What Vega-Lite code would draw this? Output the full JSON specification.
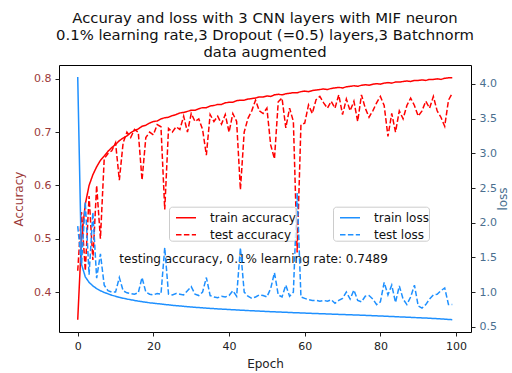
{
"$schema":"https://vega.github.io/schema/vega-lite/v6.json",
"width":412,"height":267,
"autosize":"none",
"padding":{"left":59,"top":65,"right":41,"bottom":41},
"background":"white",
"config":{"font":"DejaVu Sans","view":{"stroke":"black","strokeWidth":1},
"axis":{"labelFont":"DejaVu Sans","labelFontSize":11,"titleFont":"DejaVu Sans","titleFontSize":12,"titleFontWeight":"normal","grid":false,"domain":false,"tickColor":"#222","tickSize":4,"labelPadding":4,"labelColor":"#222","titleColor":"#222"},
"legend":{"labelFont":"DejaVu Sans","title":null,"symbolType":"stroke","symbolSize":400,"symbolStrokeWidth":1.5,"symbolOffset":6,"labelFontSize":12,"labelColor":"#111","fillColor":"rgba(255,255,255,0.8)","strokeColor":"#cccccc","padding":0,"cornerRadius":3,"labelOffset":13,"rowPadding":-3.6}},
"title":{"text":["Accuray and loss with 3 CNN layers with MIF neuron","0.1% learning rate,3 Dropout (=0.5) layers,3 Batchnorm","data augmented"],"fontSize":14.8,"fontWeight":"normal","anchor":"middle","offset":5,"lineHeight":17,"color":"#111","font":"DejaVu Sans"},
"datasets":{
"acc":[
{"e":0,"s":"train accuracy","v":0.348},{"e":1,"s":"train accuracy","v":0.5},{"e":2,"s":"train accuracy","v":0.565},{"e":3,"s":"train accuracy","v":0.6},{"e":4,"s":"train accuracy","v":0.62},{"e":5,"s":"train accuracy","v":0.635},{"e":6,"s":"train accuracy","v":0.647},{"e":7,"s":"train accuracy","v":0.655},{"e":8,"s":"train accuracy","v":0.664},{"e":9,"s":"train accuracy","v":0.671},
{"e":10,"s":"train accuracy","v":0.677},{"e":11,"s":"train accuracy","v":0.684},{"e":12,"s":"train accuracy","v":0.689},{"e":13,"s":"train accuracy","v":0.693},{"e":14,"s":"train accuracy","v":0.699},{"e":15,"s":"train accuracy","v":0.703},{"e":16,"s":"train accuracy","v":0.706},{"e":17,"s":"train accuracy","v":0.711},{"e":18,"s":"train accuracy","v":0.713},{"e":19,"s":"train accuracy","v":0.717},
{"e":20,"s":"train accuracy","v":0.72},{"e":21,"s":"train accuracy","v":0.721},{"e":22,"s":"train accuracy","v":0.725},{"e":23,"s":"train accuracy","v":0.727},{"e":24,"s":"train accuracy","v":0.728},{"e":25,"s":"train accuracy","v":0.731},{"e":26,"s":"train accuracy","v":0.733},{"e":27,"s":"train accuracy","v":0.736},{"e":28,"s":"train accuracy","v":0.737},{"e":29,"s":"train accuracy","v":0.739},
{"e":30,"s":"train accuracy","v":0.741},{"e":31,"s":"train accuracy","v":0.741},{"e":32,"s":"train accuracy","v":0.744},{"e":33,"s":"train accuracy","v":0.746},{"e":34,"s":"train accuracy","v":0.746},{"e":35,"s":"train accuracy","v":0.749},{"e":36,"s":"train accuracy","v":0.75},{"e":37,"s":"train accuracy","v":0.752},{"e":38,"s":"train accuracy","v":0.752},{"e":39,"s":"train accuracy","v":0.755},
{"e":40,"s":"train accuracy","v":0.756},{"e":41,"s":"train accuracy","v":0.756},{"e":42,"s":"train accuracy","v":0.759},{"e":43,"s":"train accuracy","v":0.76},{"e":44,"s":"train accuracy","v":0.76},{"e":45,"s":"train accuracy","v":0.762},{"e":46,"s":"train accuracy","v":0.763},{"e":47,"s":"train accuracy","v":0.764},{"e":48,"s":"train accuracy","v":0.766},{"e":49,"s":"train accuracy","v":0.766},
{"e":50,"s":"train accuracy","v":0.768},{"e":51,"s":"train accuracy","v":0.767},{"e":52,"s":"train accuracy","v":0.77},{"e":53,"s":"train accuracy","v":0.771},{"e":54,"s":"train accuracy","v":0.77},{"e":55,"s":"train accuracy","v":0.772},{"e":56,"s":"train accuracy","v":0.773},{"e":57,"s":"train accuracy","v":0.774},{"e":58,"s":"train accuracy","v":0.774},{"e":59,"s":"train accuracy","v":0.776},
{"e":60,"s":"train accuracy","v":0.777},{"e":61,"s":"train accuracy","v":0.776},{"e":62,"s":"train accuracy","v":0.778},{"e":63,"s":"train accuracy","v":0.779},{"e":64,"s":"train accuracy","v":0.78},{"e":65,"s":"train accuracy","v":0.781},{"e":66,"s":"train accuracy","v":0.78},{"e":67,"s":"train accuracy","v":0.782},{"e":68,"s":"train accuracy","v":0.783},{"e":69,"s":"train accuracy","v":0.784},
{"e":70,"s":"train accuracy","v":0.783},{"e":71,"s":"train accuracy","v":0.785},{"e":72,"s":"train accuracy","v":0.786},{"e":73,"s":"train accuracy","v":0.787},{"e":74,"s":"train accuracy","v":0.786},{"e":75,"s":"train accuracy","v":0.788},{"e":76,"s":"train accuracy","v":0.789},{"e":77,"s":"train accuracy","v":0.788},{"e":78,"s":"train accuracy","v":0.79},{"e":79,"s":"train accuracy","v":0.791},
{"e":80,"s":"train accuracy","v":0.79},{"e":81,"s":"train accuracy","v":0.792},{"e":82,"s":"train accuracy","v":0.793},{"e":83,"s":"train accuracy","v":0.792},{"e":84,"s":"train accuracy","v":0.794},{"e":85,"s":"train accuracy","v":0.794},{"e":86,"s":"train accuracy","v":0.795},{"e":87,"s":"train accuracy","v":0.796},{"e":88,"s":"train accuracy","v":0.795},{"e":89,"s":"train accuracy","v":0.797},
{"e":90,"s":"train accuracy","v":0.797},{"e":91,"s":"train accuracy","v":0.798},{"e":92,"s":"train accuracy","v":0.797},{"e":93,"s":"train accuracy","v":0.799},{"e":94,"s":"train accuracy","v":0.799},{"e":95,"s":"train accuracy","v":0.8},{"e":96,"s":"train accuracy","v":0.799},{"e":97,"s":"train accuracy","v":0.801},{"e":98,"s":"train accuracy","v":0.802},{"e":99,"s":"train accuracy","v":0.802},
{"e":0,"s":"test accuracy","v":0.44},{"e":1,"s":"test accuracy","v":0.55},{"e":2,"s":"test accuracy","v":0.44},{"e":3,"s":"test accuracy","v":0.58},{"e":4,"s":"test accuracy","v":0.46},{"e":5,"s":"test accuracy","v":0.6},{"e":6,"s":"test accuracy","v":0.5},{"e":7,"s":"test accuracy","v":0.65},{"e":8,"s":"test accuracy","v":0.66},{"e":9,"s":"test accuracy","v":0.665},
{"e":10,"s":"test accuracy","v":0.68},{"e":11,"s":"test accuracy","v":0.61},{"e":12,"s":"test accuracy","v":0.68},{"e":13,"s":"test accuracy","v":0.7},{"e":14,"s":"test accuracy","v":0.69},{"e":15,"s":"test accuracy","v":0.705},{"e":16,"s":"test accuracy","v":0.7},{"e":17,"s":"test accuracy","v":0.61},{"e":18,"s":"test accuracy","v":0.69},{"e":19,"s":"test accuracy","v":0.7},
{"e":20,"s":"test accuracy","v":0.695},{"e":21,"s":"test accuracy","v":0.714},{"e":22,"s":"test accuracy","v":0.71},{"e":23,"s":"test accuracy","v":0.555},{"e":24,"s":"test accuracy","v":0.707},{"e":25,"s":"test accuracy","v":0.7},{"e":26,"s":"test accuracy","v":0.71},{"e":27,"s":"test accuracy","v":0.705},{"e":28,"s":"test accuracy","v":0.73},{"e":29,"s":"test accuracy","v":0.7},
{"e":30,"s":"test accuracy","v":0.735},{"e":31,"s":"test accuracy","v":0.72},{"e":32,"s":"test accuracy","v":0.725},{"e":33,"s":"test accuracy","v":0.705},{"e":34,"s":"test accuracy","v":0.657},{"e":35,"s":"test accuracy","v":0.733},{"e":36,"s":"test accuracy","v":0.72},{"e":37,"s":"test accuracy","v":0.73},{"e":38,"s":"test accuracy","v":0.715},{"e":39,"s":"test accuracy","v":0.733},
{"e":40,"s":"test accuracy","v":0.7},{"e":41,"s":"test accuracy","v":0.735},{"e":42,"s":"test accuracy","v":0.72},{"e":43,"s":"test accuracy","v":0.592},{"e":44,"s":"test accuracy","v":0.7},{"e":45,"s":"test accuracy","v":0.726},{"e":46,"s":"test accuracy","v":0.74},{"e":47,"s":"test accuracy","v":0.76},{"e":48,"s":"test accuracy","v":0.74},{"e":49,"s":"test accuracy","v":0.735},
{"e":50,"s":"test accuracy","v":0.745},{"e":51,"s":"test accuracy","v":0.676},{"e":52,"s":"test accuracy","v":0.65},{"e":53,"s":"test accuracy","v":0.757},{"e":54,"s":"test accuracy","v":0.764},{"e":55,"s":"test accuracy","v":0.708},{"e":56,"s":"test accuracy","v":0.745},{"e":57,"s":"test accuracy","v":0.72},{"e":58,"s":"test accuracy","v":0.474},{"e":59,"s":"test accuracy","v":0.714},
{"e":60,"s":"test accuracy","v":0.717},{"e":61,"s":"test accuracy","v":0.751},{"e":62,"s":"test accuracy","v":0.735},{"e":63,"s":"test accuracy","v":0.761},{"e":64,"s":"test accuracy","v":0.767},{"e":65,"s":"test accuracy","v":0.755},{"e":66,"s":"test accuracy","v":0.745},{"e":67,"s":"test accuracy","v":0.758},{"e":68,"s":"test accuracy","v":0.745},{"e":69,"s":"test accuracy","v":0.77},
{"e":70,"s":"test accuracy","v":0.733},{"e":71,"s":"test accuracy","v":0.762},{"e":72,"s":"test accuracy","v":0.74},{"e":73,"s":"test accuracy","v":0.758},{"e":74,"s":"test accuracy","v":0.72},{"e":75,"s":"test accuracy","v":0.77},{"e":76,"s":"test accuracy","v":0.745},{"e":77,"s":"test accuracy","v":0.728},{"e":78,"s":"test accuracy","v":0.74},{"e":79,"s":"test accuracy","v":0.755},
{"e":80,"s":"test accuracy","v":0.767},{"e":81,"s":"test accuracy","v":0.75},{"e":82,"s":"test accuracy","v":0.692},{"e":83,"s":"test accuracy","v":0.735},{"e":84,"s":"test accuracy","v":0.7},{"e":85,"s":"test accuracy","v":0.74},{"e":86,"s":"test accuracy","v":0.725},{"e":87,"s":"test accuracy","v":0.75},{"e":88,"s":"test accuracy","v":0.764},{"e":89,"s":"test accuracy","v":0.75},
{"e":90,"s":"test accuracy","v":0.73},{"e":91,"s":"test accuracy","v":0.74},{"e":92,"s":"test accuracy","v":0.758},{"e":93,"s":"test accuracy","v":0.745},{"e":94,"s":"test accuracy","v":0.767},{"e":95,"s":"test accuracy","v":0.74},{"e":96,"s":"test accuracy","v":0.728},{"e":97,"s":"test accuracy","v":0.711},{"e":98,"s":"test accuracy","v":0.76},{"e":99,"s":"test accuracy","v":0.773}
],
"loss":[
{"e":0,"s":"train loss","v":4.1},{"e":1,"s":"train loss","v":1.4},{"e":2,"s":"train loss","v":1.22},{"e":3,"s":"train loss","v":1.14},{"e":4,"s":"train loss","v":1.09},{"e":5,"s":"train loss","v":1.05},{"e":6,"s":"train loss","v":1.02},{"e":7,"s":"train loss","v":0.995},{"e":8,"s":"train loss","v":0.975},{"e":9,"s":"train loss","v":0.955},
{"e":10,"s":"train loss","v":0.94},{"e":11,"s":"train loss","v":0.925},{"e":12,"s":"train loss","v":0.912},{"e":13,"s":"train loss","v":0.9},{"e":14,"s":"train loss","v":0.89},{"e":15,"s":"train loss","v":0.88},{"e":16,"s":"train loss","v":0.87},{"e":17,"s":"train loss","v":0.862},{"e":18,"s":"train loss","v":0.854},{"e":19,"s":"train loss","v":0.846},
{"e":20,"s":"train loss","v":0.84},{"e":21,"s":"train loss","v":0.834},{"e":22,"s":"train loss","v":0.828},{"e":23,"s":"train loss","v":0.822},{"e":24,"s":"train loss","v":0.816},{"e":25,"s":"train loss","v":0.81},{"e":26,"s":"train loss","v":0.805},{"e":27,"s":"train loss","v":0.8},{"e":28,"s":"train loss","v":0.795},{"e":29,"s":"train loss","v":0.79},
{"e":30,"s":"train loss","v":0.786},{"e":31,"s":"train loss","v":0.781},{"e":32,"s":"train loss","v":0.777},{"e":33,"s":"train loss","v":0.773},{"e":34,"s":"train loss","v":0.769},{"e":35,"s":"train loss","v":0.765},{"e":36,"s":"train loss","v":0.762},{"e":37,"s":"train loss","v":0.758},{"e":38,"s":"train loss","v":0.755},{"e":39,"s":"train loss","v":0.752},
{"e":40,"s":"train loss","v":0.749},{"e":41,"s":"train loss","v":0.746},{"e":42,"s":"train loss","v":0.743},{"e":43,"s":"train loss","v":0.74},{"e":44,"s":"train loss","v":0.737},{"e":45,"s":"train loss","v":0.734},{"e":46,"s":"train loss","v":0.731},{"e":47,"s":"train loss","v":0.729},{"e":48,"s":"train loss","v":0.726},{"e":49,"s":"train loss","v":0.723},
{"e":50,"s":"train loss","v":0.721},{"e":51,"s":"train loss","v":0.718},{"e":52,"s":"train loss","v":0.716},{"e":53,"s":"train loss","v":0.713},{"e":54,"s":"train loss","v":0.711},{"e":55,"s":"train loss","v":0.709},{"e":56,"s":"train loss","v":0.706},{"e":57,"s":"train loss","v":0.704},{"e":58,"s":"train loss","v":0.702},{"e":59,"s":"train loss","v":0.7},
{"e":60,"s":"train loss","v":0.698},{"e":61,"s":"train loss","v":0.695},{"e":62,"s":"train loss","v":0.693},{"e":63,"s":"train loss","v":0.691},{"e":64,"s":"train loss","v":0.689},{"e":65,"s":"train loss","v":0.687},{"e":66,"s":"train loss","v":0.685},{"e":67,"s":"train loss","v":0.683},{"e":68,"s":"train loss","v":0.681},{"e":69,"s":"train loss","v":0.679},
{"e":70,"s":"train loss","v":0.677},{"e":71,"s":"train loss","v":0.675},{"e":72,"s":"train loss","v":0.673},{"e":73,"s":"train loss","v":0.671},{"e":74,"s":"train loss","v":0.669},{"e":75,"s":"train loss","v":0.667},{"e":76,"s":"train loss","v":0.665},{"e":77,"s":"train loss","v":0.663},{"e":78,"s":"train loss","v":0.66},{"e":79,"s":"train loss","v":0.658},
{"e":80,"s":"train loss","v":0.656},{"e":81,"s":"train loss","v":0.653},{"e":82,"s":"train loss","v":0.651},{"e":83,"s":"train loss","v":0.648},{"e":84,"s":"train loss","v":0.646},{"e":85,"s":"train loss","v":0.643},{"e":86,"s":"train loss","v":0.641},{"e":87,"s":"train loss","v":0.638},{"e":88,"s":"train loss","v":0.636},{"e":89,"s":"train loss","v":0.633},
{"e":90,"s":"train loss","v":0.631},{"e":91,"s":"train loss","v":0.628},{"e":92,"s":"train loss","v":0.626},{"e":93,"s":"train loss","v":0.623},{"e":94,"s":"train loss","v":0.62},{"e":95,"s":"train loss","v":0.617},{"e":96,"s":"train loss","v":0.614},{"e":97,"s":"train loss","v":0.61},{"e":98,"s":"train loss","v":0.606},{"e":99,"s":"train loss","v":0.602},
{"e":0,"s":"test loss","v":1.95},{"e":1,"s":"test loss","v":1.4},{"e":2,"s":"test loss","v":2.3},{"e":3,"s":"test loss","v":1.25},{"e":4,"s":"test loss","v":2.15},{"e":5,"s":"test loss","v":1.2},{"e":6,"s":"test loss","v":1.55},{"e":7,"s":"test loss","v":1.1},{"e":8,"s":"test loss","v":1.02},{"e":9,"s":"test loss","v":1.0},
{"e":10,"s":"test loss","v":1.0},{"e":11,"s":"test loss","v":1.21},{"e":12,"s":"test loss","v":1.02},{"e":13,"s":"test loss","v":0.99},{"e":14,"s":"test loss","v":0.98},{"e":15,"s":"test loss","v":0.97},{"e":16,"s":"test loss","v":0.99},{"e":17,"s":"test loss","v":1.21},{"e":18,"s":"test loss","v":1.0},{"e":19,"s":"test loss","v":0.97},
{"e":20,"s":"test loss","v":0.96},{"e":21,"s":"test loss","v":0.98},{"e":22,"s":"test loss","v":0.97},{"e":23,"s":"test loss","v":1.64},{"e":24,"s":"test loss","v":0.97},{"e":25,"s":"test loss","v":0.96},{"e":26,"s":"test loss","v":0.98},{"e":27,"s":"test loss","v":0.97},{"e":28,"s":"test loss","v":0.96},{"e":29,"s":"test loss","v":1.02},
{"e":30,"s":"test loss","v":1.08},{"e":31,"s":"test loss","v":0.97},{"e":32,"s":"test loss","v":0.95},{"e":33,"s":"test loss","v":1.0},{"e":34,"s":"test loss","v":1.21},{"e":35,"s":"test loss","v":0.95},{"e":36,"s":"test loss","v":0.93},{"e":37,"s":"test loss","v":0.92},{"e":38,"s":"test loss","v":0.94},{"e":39,"s":"test loss","v":0.93},
{"e":40,"s":"test loss","v":0.95},{"e":41,"s":"test loss","v":1.02},{"e":42,"s":"test loss","v":0.94},{"e":43,"s":"test loss","v":1.64},{"e":44,"s":"test loss","v":1.0},{"e":45,"s":"test loss","v":0.94},{"e":46,"s":"test loss","v":0.91},{"e":47,"s":"test loss","v":0.93},{"e":48,"s":"test loss","v":0.96},{"e":49,"s":"test loss","v":0.95},
{"e":50,"s":"test loss","v":0.93},{"e":51,"s":"test loss","v":1.05},{"e":52,"s":"test loss","v":1.28},{"e":53,"s":"test loss","v":0.96},{"e":54,"s":"test loss","v":0.93},{"e":55,"s":"test loss","v":1.1},{"e":56,"s":"test loss","v":0.94},{"e":57,"s":"test loss","v":1.0},{"e":58,"s":"test loss","v":2.43},{"e":59,"s":"test loss","v":0.93},
{"e":60,"s":"test loss","v":0.91},{"e":61,"s":"test loss","v":0.89},{"e":62,"s":"test loss","v":0.88},{"e":63,"s":"test loss","v":0.88},{"e":64,"s":"test loss","v":0.87},{"e":65,"s":"test loss","v":0.88},{"e":66,"s":"test loss","v":0.87},{"e":67,"s":"test loss","v":0.89},{"e":68,"s":"test loss","v":0.84},{"e":69,"s":"test loss","v":0.88},
{"e":70,"s":"test loss","v":0.91},{"e":71,"s":"test loss","v":1.0},{"e":72,"s":"test loss","v":0.9},{"e":73,"s":"test loss","v":1.03},{"e":74,"s":"test loss","v":0.88},{"e":75,"s":"test loss","v":0.86},{"e":76,"s":"test loss","v":0.94},{"e":77,"s":"test loss","v":0.95},{"e":78,"s":"test loss","v":0.9},{"e":79,"s":"test loss","v":0.82},
{"e":80,"s":"test loss","v":0.86},{"e":81,"s":"test loss","v":1.14},{"e":82,"s":"test loss","v":0.96},{"e":83,"s":"test loss","v":1.1},{"e":84,"s":"test loss","v":0.85},{"e":85,"s":"test loss","v":1.09},{"e":86,"s":"test loss","v":0.9},{"e":87,"s":"test loss","v":0.82},{"e":88,"s":"test loss","v":0.93},{"e":89,"s":"test loss","v":1.1},
{"e":90,"s":"test loss","v":0.8},{"e":91,"s":"test loss","v":0.77},{"e":92,"s":"test loss","v":0.82},{"e":93,"s":"test loss","v":0.9},{"e":94,"s":"test loss","v":0.96},{"e":95,"s":"test loss","v":0.97},{"e":96,"s":"test loss","v":1.02},{"e":97,"s":"test loss","v":1.06},{"e":98,"s":"test loss","v":0.82},{"e":99,"s":"test loss","v":0.82}
],
"note":[{"e":11,"v":0.455,"label":"testing accuracy, 0.1% learning rate: 0.7489"}]
},
"layer":[
{"layer":[
{"data":{"name":"acc"},"mark":{"type":"line","strokeWidth":1.5},
"encoding":{
"x":{"field":"e","type":"quantitative","scale":{"domain":[-4.95,103.95],"nice":false,"zero":false},"axis":{"values":[0,20,40,60,80,100],"title":"Epoch","titlePadding":7,"labelFlush":false}},
"y":{"field":"v","type":"quantitative","scale":{"domain":[0.325,0.826],"nice":false,"zero":false},"axis":{"values":[0.4,0.5,0.6,0.7,0.8],"format":".1f","title":"Accuracy","labelColor":"#9c3a3a","titleColor":"#9c3a3a","titlePadding":8}},
"color":{"field":"s","type":"nominal","scale":{"domain":["train accuracy","test accuracy"],"range":["#ff0000","#ff0000"]},"legend":{"orient":"none","legendX":110,"legendY":141.7}},
"strokeDash":{"field":"s","type":"nominal","scale":{"domain":["train accuracy","test accuracy"],"range":[[1,0],[5.5,2.4]]},"legend":{"orient":"none","legendX":110,"legendY":141.7}}
}},
{"data":{"name":"note"},"mark":{"type":"text","align":"left","baseline":"alphabetic","fontSize":12,"color":"#111","font":"DejaVu Sans"},
"encoding":{"x":{"field":"e","type":"quantitative"},"y":{"field":"v","type":"quantitative"},"text":{"field":"label"}}}
]},
{"data":{"name":"loss"},"mark":{"type":"line","strokeWidth":1.5},
"encoding":{
"x":{"field":"e","type":"quantitative"},
"y":{"field":"v","type":"quantitative","scale":{"domain":[0.425,4.273],"nice":false,"zero":false},"axis":{"orient":"right","values":[0.5,1,1.5,2,2.5,3,3.5,4],"format":".1f","title":"loss","titleAngle":270,"labelColor":"#4a6f8f","titleColor":"#4a6f8f","titlePadding":13}},
"color":{"field":"s","type":"nominal","scale":{"domain":["train loss","test loss"],"range":["#1e90ff","#1e90ff"]},"legend":{"orient":"none","legendX":274,"legendY":141.7}},
"strokeDash":{"field":"s","type":"nominal","scale":{"domain":["train loss","test loss"],"range":[[1,0],[5.5,2.4]]},"legend":{"orient":"none","legendX":274,"legendY":141.7}}
}}
],
"resolve":{"scale":{"y":"independent","color":"independent","strokeDash":"independent"}}
}
